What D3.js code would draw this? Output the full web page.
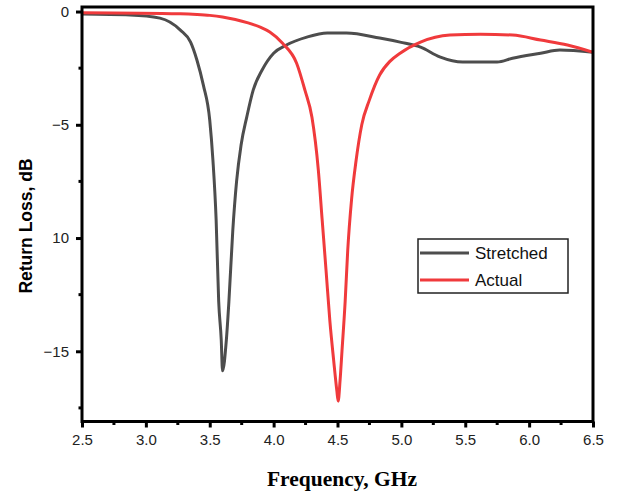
<!DOCTYPE html>
<html><head><meta charset="utf-8">
<script src="https://cdn.jsdelivr.net/npm/d3@7"></script>
<style>body{margin:0;background:#fff}</style>
</head><body>
<svg id="c" width="619" height="493"></svg>
<script>
const stretchedX = [2.5,2.876,3.11,3.27,3.35,3.40,3.45,3.50,3.525,3.55,3.57,3.59,3.60,3.63,3.65,3.68,3.71,3.745,3.79,3.84,3.91,4.0,4.1,4.26,4.42,4.57,4.83,4.99,5.15,5.3,5.48,5.75,5.87,6.09,6.24,6.5];
const stretchedY = [-0.11,-0.15,-0.29,-0.82,-1.35,-2.15,-3.25,-4.8,-6.57,-9.2,-12.8,-14.5,-15.86,-14.5,-12.8,-9.7,-7.5,-5.9,-4.65,-3.47,-2.58,-1.84,-1.48,-1.13,-0.95,-0.95,-1.17,-1.35,-1.57,-2.0,-2.23,-2.23,-2.06,-1.84,-1.7,-1.8];
const actualX = [2.5,3.27,3.4,3.5,3.6,3.7,3.8,3.9,3.97,4.07,4.18,4.245,4.30,4.35,4.38,4.41,4.44,4.47,4.495,4.505,4.52,4.535,4.56,4.58,4.61,4.645,4.69,4.75,4.83,4.91,4.99,5.15,5.38,5.62,5.87,6.09,6.3,6.5];
const actualY = [-0.05,-0.1,-0.13,-0.17,-0.24,-0.35,-0.5,-0.7,-0.9,-1.4,-2.28,-3.47,-4.67,-7.0,-9.2,-11.4,-13.65,-15.4,-16.75,-17.2,-16.3,-15.0,-12.8,-10.55,-8.3,-6.6,-5.0,-3.9,-2.8,-2.2,-1.84,-1.35,-1.04,-1.0,-1.04,-1.26,-1.48,-1.8];
const xTicks = [2.5,3.0,3.5,4.0,4.5,5.0,5.5,6.0,6.5];
const xTickLabels = ["2.5","3.0","3.5","4.0","4.5","5.0","5.5","6.0","6.5"];
const yTicks = [0,-5,-10,-15];
const yTickLabels = ["0","\u22125","10","\u221215"];
const seriesNames = ["Stretched","Actual"];

const svg = d3.select("#c");
const L=82, R=593, T=7, B=421.5;
const x = d3.scaleLinear().domain([2.5,6.5]).range([L,R]);
const y = d3.scaleLinear().domain([0.2,-18.1]).range([T,B]);

const colors = ["#4d4d4d","#f03a3c"];
const line = d3.line().x(d=>x(d[0])).y(d=>y(d[1])).curve(d3.curveMonotoneX);
const series = [
  d3.zip(stretchedX, stretchedY),
  d3.zip(actualX, actualY)
];
svg.append("clipPath").attr("id","cp").append("rect").attr("x",L).attr("y",T).attr("width",R-L).attr("height",B-T);
series.forEach((s,i)=>{
  svg.append("path").attr("d",line(s)).attr("fill","none").attr("stroke",colors[i]).attr("stroke-width",3).attr("stroke-linejoin","round").attr("clip-path","url(#cp)");
});

// frame
svg.append("rect").attr("x",L).attr("y",T).attr("width",R-L).attr("height",B-T).attr("fill","none").attr("stroke","#000").attr("stroke-width",3);

// x axis
const xAxis = d3.axisBottom(x).tickValues(xTicks).tickFormat((d,i)=>xTickLabels[i]).tickSize(6).tickSizeOuter(0);
const gx = svg.append("g").attr("transform",`translate(0,${B})`).call(xAxis);
gx.select(".domain").remove();
gx.selectAll("line").attr("stroke","#000").attr("stroke-width",3);
gx.selectAll("text").attr("font-family","Liberation Sans, Arial, sans-serif").attr("font-size",15).attr("fill","#222").attr("dy","0.95em");
const xMinor = d3.range(0,8).map(i=>2.75+0.5*i);
svg.append("g").selectAll("line").data(xMinor).join("line")
  .attr("x1",d=>x(d)).attr("x2",d=>x(d)).attr("y1",B).attr("y2",B+3.5).attr("stroke","#000").attr("stroke-width",3);

// y axis
const yAxis = d3.axisLeft(y).tickValues(yTicks).tickFormat((d,i)=>yTickLabels[i]).tickSize(6).tickSizeOuter(0);
const gy = svg.append("g").attr("transform",`translate(${L},0)`).call(yAxis);
gy.select(".domain").remove();
gy.selectAll("line").attr("stroke","#000").attr("stroke-width",3);
gy.selectAll("text").attr("font-family","Liberation Sans, Arial, sans-serif").attr("font-size",15).attr("fill","#222").attr("x",-13);
const yMinor = [-2.5,-7.5,-12.5,-17.5];
svg.append("g").selectAll("line").data(yMinor).join("line")
  .attr("x1",L).attr("x2",L-3.5).attr("y1",d=>y(d)).attr("y2",d=>y(d)).attr("stroke","#000").attr("stroke-width",3);

// titles
svg.append("text").attr("x",342).attr("y",486).attr("text-anchor","middle")
  .attr("font-family","Liberation Serif, Times New Roman, serif").attr("font-weight","bold").attr("font-size",21.5).text("Frequency, GHz");
svg.append("text").attr("transform","translate(32,226) rotate(-90)").attr("text-anchor","middle")
  .attr("font-family","Liberation Sans, Arial, sans-serif").attr("font-weight","bold").attr("font-size",17.5).text("Return Loss, dB");

// legend
const lg = svg.append("g");
lg.append("rect").attr("x",418).attr("y",239).attr("width",150).attr("height",54).attr("fill","#fff").attr("stroke","#222").attr("stroke-width",1.5);
seriesNames.forEach((n,i)=>{
  const yy = 253 + i*27;
  lg.append("line").attr("x1",420).attr("x2",469).attr("y1",yy).attr("y2",yy).attr("stroke",colors[i]).attr("stroke-width",3);
  lg.append("text").attr("x",475).attr("y",yy).attr("dy","0.35em").attr("font-family","Liberation Sans, Arial, sans-serif").attr("font-size",17).attr("fill","#111").text(n);
});
</script>
</body></html>
